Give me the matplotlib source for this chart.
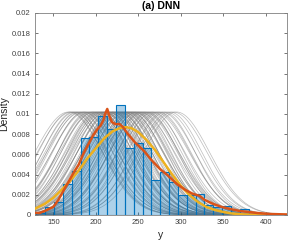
import numpy as np
import matplotlib.pyplot as plt

plt.rcParams['font.family'] = ['Liberation Sans', 'DejaVu Sans']

# histogram (density per bin), bins from 130 to 380
bin_edges = np.linspace(130, 380, 25)
hist_density = [0.0002, 0.0008, 0.0013, 0.0031, 0.0044, 0.0076, 0.0077, 0.0098,
                0.0085, 0.0109, 0.0066, 0.0071, 0.0066, 0.0035, 0.0043, 0.0033,
                0.0020, 0.0020, 0.0021, 0.0010, 0.0008, 0.0009, 0.0005, 0.0006]

# kernel density estimate (red)
kde_x = [128, 134, 140, 150, 156, 162, 168, 174, 180, 185, 190, 197, 202, 206,
         209, 211, 213.5, 216, 219, 223, 228, 232, 238, 246, 256, 266, 275, 285,
         295, 305, 314, 322, 328, 338, 348, 358, 369, 380, 390, 405, 425]
kde_y = [0.0002, 0.0002, 0.0004, 0.0008, 0.0015, 0.0024, 0.0033, 0.0042, 0.0050,
         0.0060, 0.0068, 0.0079, 0.0085, 0.0089, 0.0094, 0.0100, 0.0105, 0.0098,
         0.0092, 0.0090, 0.0090, 0.0087, 0.0080, 0.0072, 0.0064, 0.0054, 0.0046,
         0.0039, 0.0031, 0.0025, 0.0021, 0.0019, 0.0015, 0.0011, 0.0008, 0.0006,
         0.0004, 0.0003, 0.0002, 0.0001, 0.00005]

# normal fit (yellow)
fit_x = [128, 140, 150, 160, 170, 180, 190, 200, 210, 220, 228, 235, 242, 250,
         260, 270, 280, 290, 300, 310, 320, 330, 340, 350, 360, 375, 400, 425]
fit_y = [0.0006, 0.0011, 0.0017, 0.0025, 0.0034, 0.0044, 0.0056, 0.0066, 0.0076,
         0.0083, 0.0086, 0.0087, 0.0086, 0.0082, 0.0074, 0.0064, 0.0052, 0.0040,
         0.0029, 0.0020, 0.0013, 0.0008, 0.0005, 0.0003, 0.00015, 0.00005,
         0.00001, 0.0]

# grey predictive curves: centre and width of each bump
gray_mu = [168, 170, 172, 174, 176, 178, 180, 182, 184, 186, 187, 189, 191, 193,
           195, 196, 198, 199, 201, 202, 204, 205, 206, 208, 209, 210, 211, 213,
           214, 215, 216, 218, 219, 220, 221, 222, 224, 225, 226, 227, 228, 230,
           231, 232, 233, 235, 236, 237, 238, 240, 241, 242, 244, 245, 246, 248,
           249, 251, 252, 254, 256, 257, 259, 261, 263, 265, 267, 269, 272, 274,
           277, 280, 283, 287, 291, 295]
gray_sd = [40, 38, 41, 37, 39, 36, 40, 38, 42, 37, 39, 41, 36, 38, 40, 37, 39, 42,
           38, 36, 40, 39, 37, 41, 38, 40, 36, 39, 42, 37, 38, 40, 41, 36, 39, 38,
           40, 37, 42, 39, 38, 36, 40, 41, 37, 39, 38, 42, 36, 40, 39, 37, 41, 38,
           40, 36, 39, 42, 37, 38, 40, 41, 39, 36, 38, 40, 37, 41, 39, 38, 40, 37,
           39, 38, 40, 39]
gray_peak = 0.0102

fig = plt.figure(figsize=(2.93, 2.42), dpi=100)
ax = fig.add_axes([0.1195, 0.1116, 0.86, 0.8347])

xx = np.linspace(128, 425, 300)
for mu, sd in zip(gray_mu, gray_sd):
    ax.plot(xx, gray_peak * np.exp(-0.5 * ((xx - mu) / sd) ** 2),
            color='#7a7a7a', linewidth=0.5, alpha=0.5, zorder=1)

ax.bar(bin_edges[:-1], hist_density, width=np.diff(bin_edges), align='edge',
       facecolor=(0.0, 0.447, 0.741, 0.32), edgecolor='#0072BD',
       linewidth=0.8, zorder=2)

ax.plot(fit_x, fit_y, color='#EDB120', linewidth=1.8, zorder=3)
ax.plot(kde_x, kde_y, color='#D95319', linewidth=1.8, zorder=4)

ax.set_xlim(128.5, 425)
ax.set_ylim(0, 0.02)
ax.set_xticks([150, 200, 250, 300, 350, 400])
ax.set_yticks(np.arange(0, 0.0201, 0.002))
ax.set_yticklabels(['0', '0.002', '0.004', '0.006', '0.008', '0.01',
                    '0.012', '0.014', '0.016', '0.018', '0.02'])
ax.tick_params(direction='in', length=2.5, width=0.5, labelsize=5.5,
               colors='#404040', top=True, right=True, pad=3)
for s in ax.spines.values():
    s.set_color('#808080')
    s.set_linewidth(0.6)

ax.set_title('(a) DNN', fontsize=7.5, fontweight='bold', pad=3)
ax.set_xlabel('y', fontsize=7.5, color='#262626', labelpad=3)
ax.set_ylabel('Density', fontsize=7.5, color='#262626', labelpad=2)

fig.savefig('out.png', dpi=100)
